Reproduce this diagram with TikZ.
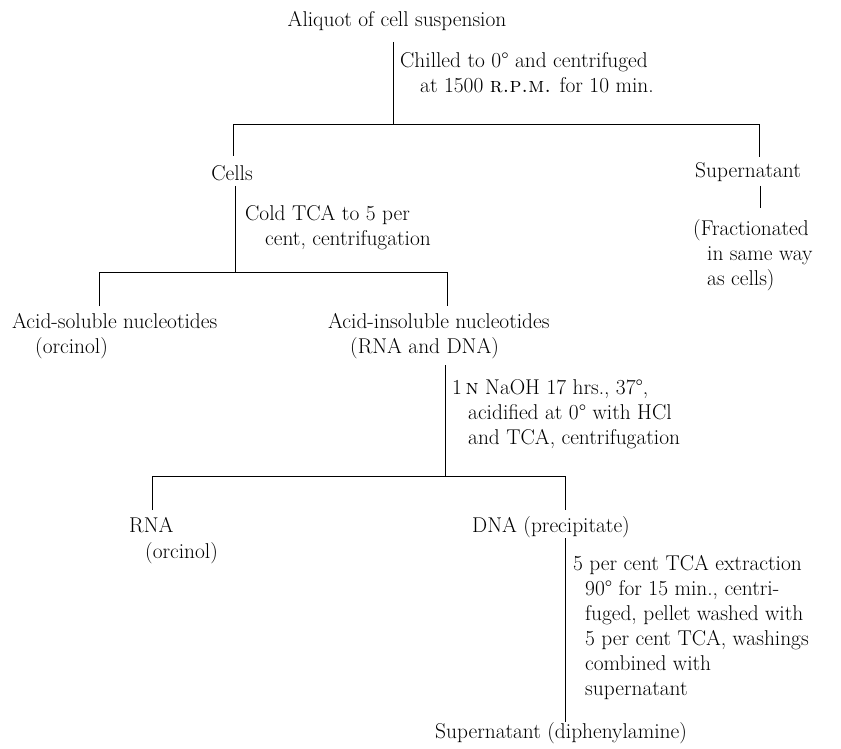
\documentclass[tikz,border=0pt]{standalone}
\begin{document}
\begin{tikzpicture}[x=1pt,y=-1pt,
  lbl/.style={anchor=base west, inner sep=0pt, font=\fontsize{21.4}{25}\selectfont},
  lblc/.style={lbl, anchor=base},
  conn/.style={line width=0.9pt}]
\path[use as bounding box] (0,0) rectangle (841,749);

% texts
\node[lblc] (aliq) at (397,27) {Aliquot of cell suspension};
\node[lbl] (chilA) at (400,68) {Chilled to 0\textdegree{} and centrifuged};
\node[lbl] (chilB) at (420,93) {at 1500 \textsc{r.p.m.} for 10 min.};
\node[lblc] (cells) at (232,180) {Cells};
\node[lbl] (sup) at (695,178) {Supernatant};
\node[lbl] (fracA) at (693,235) {(Fractionated};
\node[lbl] (fracB) at (707,260) {in same way};
\node[lbl] (fracC) at (707,285) {as cells)};
\node[lbl] (coldA) at (245,220) {Cold TCA to 5 per};
\node[lbl] (coldB) at (265,245) {cent, centrifugation};
\node[lbl] (solA) at (12,328) {Acid-soluble nucleotides};
\node[lbl] (solB) at (35,353) {(orcinol)};
\node[lbl] (insA) at (328,328) {Acid-insoluble nucleotides};
\node[lbl] (insB) at (350,353) {(RNA and DNA)};
\node[lbl] (naA) at (452,394) {1\,\textsc{n} NaOH 17 hrs., 37\textdegree,};
\node[lbl] (naB) at (468,419) {acidified at 0\textdegree{} with HCl};
\node[lbl] (naC) at (468,444) {and TCA, centrifugation};
\node[lbl] (rnaA) at (129,532) {RNA};
\node[lbl] (rnaB) at (145,558) {(orcinol)};
\node[lbl] (dna) at (472,532) {DNA (precipitate)};
\node[lbl] (tcaA) at (573,570) {5 per cent TCA extraction};
\node[lbl] (tcaB) at (585,595) {90\textdegree{} for 15 min., centri-};
\node[lbl] (tcaC) at (585,620) {fuged, pellet washed with};
\node[lbl] (tcaD) at (585,645) {5 per cent TCA, washings};
\node[lbl] (tcaE) at (585,670) {combined with};
\node[lbl] (tcaF) at (585,695) {supernatant};
\node[lbl] (fin) at (435,738) {Supernatant (diphenylamine)};

% junction coordinates
\coordinate (a0) at (393,42);
\coordinate (a1) at (393,124);
\coordinate (bL) at (233,124);
\coordinate (bR) at (759,124);
\coordinate (bLd) at (233,156);
\coordinate (bRd) at (759,157);
\coordinate (s0) at (760,186);
\coordinate (s1) at (760,208);
\coordinate (c0) at (235,186);
\coordinate (c1) at (235,272);
\coordinate (dL) at (99,272);
\coordinate (dR) at (447,272);
\coordinate (dLd) at (99,306);
\coordinate (dRd) at (447,306);
\coordinate (i0) at (445,365);
\coordinate (i1) at (445,476);
\coordinate (eL) at (152,476);
\coordinate (eR) at (565,476);
\coordinate (eLd) at (152,510);
\coordinate (eRd) at (565,510);
\coordinate (n0) at (565,538);
\coordinate (n1) at (565,722);

% connectors
\draw[conn] (a0) -- (a1);
\draw[conn] (bLd) -- (bL) -- (bR) -- (bRd);
\draw[conn] (s0) -- (s1);
\draw[conn] (c0) -- (c1);
\draw[conn] (dLd) -- (dL) -- (dR) -- (dRd);
\draw[conn] (i0) -- (i1);
\draw[conn] (eLd) -- (eL) -- (eR) -- (eRd);
\draw[conn] (n0) -- (n1);
\end{tikzpicture}
\end{document}
